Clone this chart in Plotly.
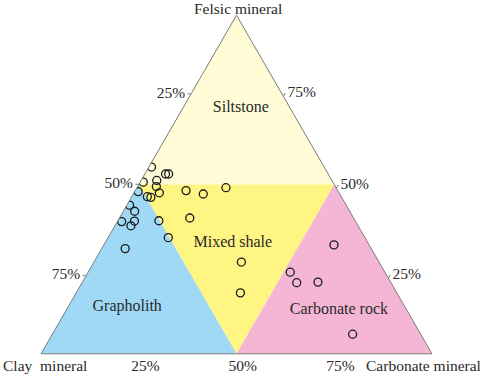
import plotly.graph_objects as go

# Sample compositions (%)
felsic = [55.2, 53.1, 53.1, 50.7, 51.2, 49.4, 47.6, 47.9, 46.4, 46.2, 48.2, 47.2, 49.1,
          43.9, 42.1, 40.1, 39.0, 39.2, 37.8, 39.3, 34.3, 31.1, 27.1, 18.0, 32.2, 24.1,
          21.0, 21.2, 5.8]
clay = [44.2, 41.6, 40.8, 48.5, 44.8, 45.8, 46.0, 51.2, 49.6, 48.8, 38.8, 34.9, 28.2,
        55.4, 55.0, 41.9, 59.8, 56.5, 58.1, 50.2, 50.3, 63.0, 35.2, 40.0, 9.0, 24.2,
        24.1, 18.6, 17.4]
carbonate = [0.7, 5.3, 6.1, 0.8, 4.0, 4.8, 6.5, 0.9, 4.0, 5.0, 13.0, 17.9, 22.8,
             0.7, 2.9, 18.0, 1.1, 4.3, 4.1, 10.5, 15.4, 6.0, 37.7, 42.0, 58.9, 51.7,
             54.9, 60.3, 76.8]

# Lithofacies regions (felsic, clay, carbonate vertices)
region_names = ["Siltstone", "Mixed shale", "Grapholith", "Carbonate rock"]
region_a = [[100, 50, 50], [50, 0, 50], [0, 50, 0], [0, 50, 0]]
region_b = [[0, 50, 0], [50, 50, 0], [100, 50, 50], [0, 0, 50]]
region_c = [[0, 0, 50], [0, 50, 50], [0, 0, 50], [100, 50, 50]]
region_colors = ["#FFFCD7", "#FFF582", "#A0D9F5", "#F4B6D4"]
# Label positions (felsic, clay, carbonate)
label_a = [72.6, 32.7, 13.9, 13.0]
label_b = [12.6, 34.6, 71.0, 17.3]
label_c = [14.8, 32.7, 15.1, 69.7]

# side tick labels as drawn in the figure
side_tick_vals = [23.0, 50, 76.7]          # felsic share on left edge
left_tick_text = ["75%", "50%", "25%"]
right_tick_vals = [23.9, 51, 77.6]         # carbonate share on right edge
right_tick_text = ["75%", "50%", "25%"]
# bottom-edge tick labels (carbonate share along the base)
bottom_c = [26.7, 51.6, 76.6]
bottom_text = ["25%", "50%", "75%"]

FONT = "Liberation Serif"
TXT = "#2a2a2a"
FS = 15.5

fig = go.Figure()
for name, ra, rb, rc, col in zip(region_names, region_a, region_b, region_c, region_colors):
    fig.add_trace(go.Scatterternary(
        a=ra + [ra[0]], b=rb + [rb[0]], c=rc + [rc[0]],
        mode="lines", fill="toself", fillcolor=col,
        line=dict(width=0, color=col), hoverinfo="skip", showlegend=False))

fig.add_trace(go.Scatterternary(
    a=label_a, b=label_b, c=label_c, mode="text", text=region_names,
    textfont=dict(family=FONT, size=16, color=TXT), showlegend=False,
    hoverinfo="skip"))

fig.add_trace(go.Scatterternary(
    a=[0] * 3, b=[100 - v for v in bottom_c], c=bottom_c, mode="markers+text",
    marker=dict(size=8, color="rgba(0,0,0,0)"),
    text=bottom_text, textposition="bottom center", cliponaxis=False,
    textfont=dict(family=FONT, size=FS, color=TXT), showlegend=False,
    hoverinfo="skip"))

fig.add_trace(go.Scatterternary(
    a=felsic, b=clay, c=carbonate, mode="markers",
    marker=dict(symbol="circle-open", size=8, color="#1a1a1a", line=dict(width=1.3)),
    showlegend=False))

axis_common = dict(
    showgrid=False, linecolor="#7a7a7a", linewidth=1, ticks="outside", ticklen=3,
    tickcolor="#7a7a7a", tickmode="array",
    tickfont=dict(family=FONT, size=FS, color=TXT), min=0,
    title=dict(text=""))

fig.update_layout(
    width=484, height=376,
    margin=dict(l=0, r=0, t=0, b=0),
    paper_bgcolor="white",
    showlegend=False,
    ternary=dict(
        sum=100,
        bgcolor="white",
        domain=dict(x=[41 / 484, 432 / 484], y=[1 - 354 / 376, 1 - 15 / 376]),
        aaxis=dict(axis_common, tickvals=side_tick_vals, ticktext=left_tick_text),
        baxis=dict(axis_common, showticklabels=False, ticks=""),
        caxis=dict(axis_common, tickvals=right_tick_vals, ticktext=right_tick_text),
    ),
    annotations=[
        dict(text="Felsic mineral", x=238 / 484, y=1 - 8 / 376, xref="paper", yref="paper",
             showarrow=False, xanchor="center", yanchor="middle",
             font=dict(family=FONT, size=FS, color=TXT)),
        dict(text="Clay  mineral", x=1 / 484, y=1 - 365 / 376, xref="paper", yref="paper",
             showarrow=False, xanchor="left", yanchor="middle",
             font=dict(family=FONT, size=FS, color=TXT)),
        dict(text="Carbonate mineral", x=483 / 484, y=1 - 365 / 376, xref="paper", yref="paper",
             showarrow=False, xanchor="right", yanchor="middle",
             font=dict(family=FONT, size=FS, color=TXT)),
    ],
)

fig.write_html("out.html", config={"displayModeBar": False},
               post_script="document.body.style.margin='0';")
